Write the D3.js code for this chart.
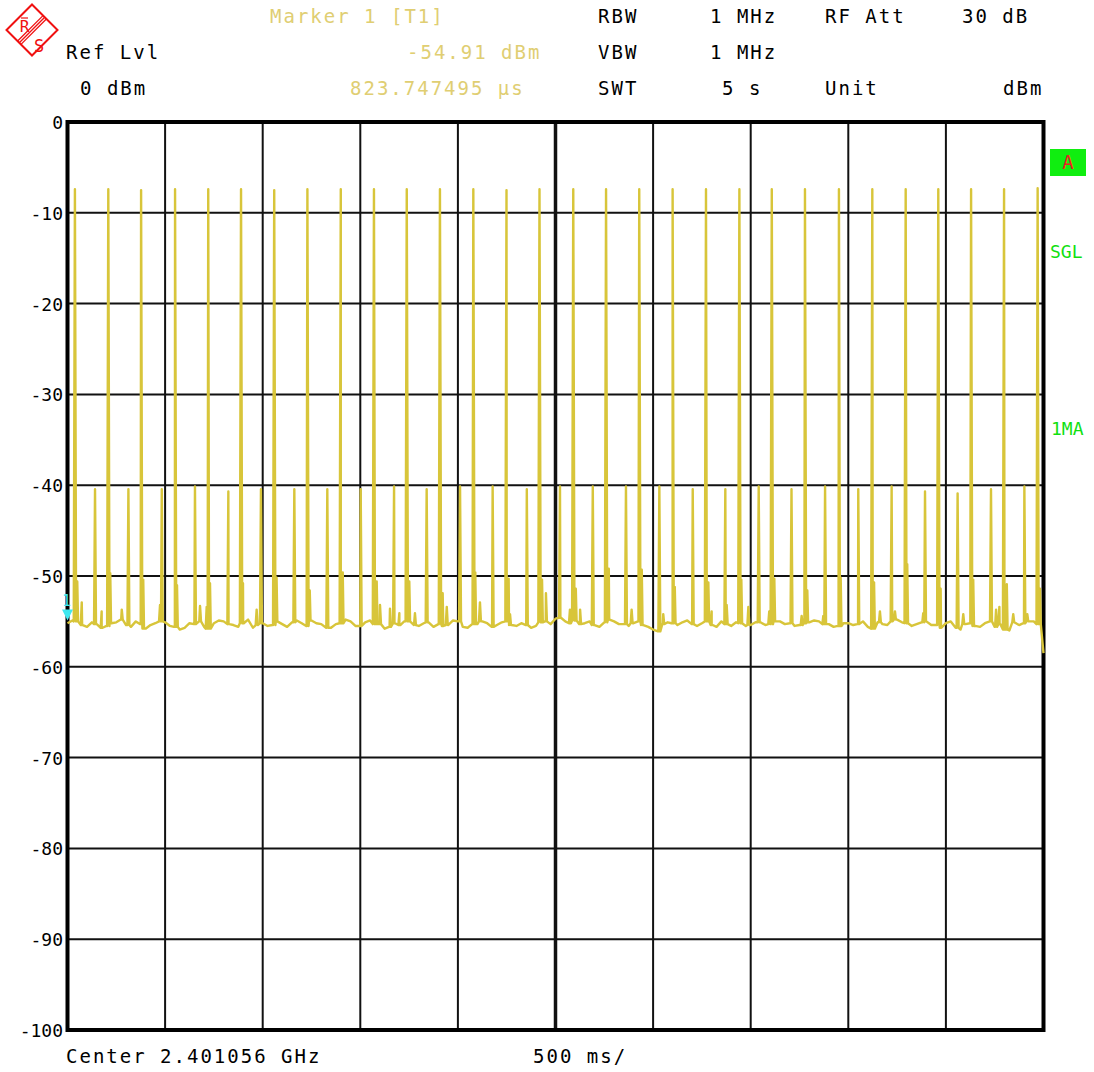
<!DOCTYPE html>
<html>
<head>
<meta charset="utf-8">
<script src="https://cdn.jsdelivr.net/npm/d3@7"></script>
<style>
  body { margin: 0; background: #fff; }
  svg { display: block; }
  text { font-family: "DejaVu Sans Mono", monospace; }
</style>
</head>
<body>
<svg id="chart" width="1094" height="1072"></svg>
<script>
// ---------- DATA ----------
const yTickValues = [0, -10, -20, -30, -40, -50, -60, -70, -80, -90, -100];
const xDivisions = [0, 0.5, 1, 1.5, 2, 2.5, 3, 3.5, 4, 4.5, 5]; // seconds, 500 ms/div

// noise floor, one sample every 25 ms (dBm)
const floorLevels = [
  -55.2, -54.9, -55.0, -55.4, -55.6, -55.1, -55.3, -55.7, -55.5, -55.2,
  -55.1, -54.8, -55.4, -55.6, -55.0, -55.3, -55.8, -55.4, -55.2, -55.0,
  -55.1, -55.5, -55.6, -55.9, -55.7, -55.2, -55.3, -55.0, -55.6, -55.8,
  -55.2, -54.9, -55.0, -55.3, -55.4, -55.6, -55.2, -54.8, -55.7, -55.4,
  -55.2, -55.5, -55.4, -55.0, -55.3, -55.6, -55.1, -54.9, -55.2, -55.5,
  -54.9, -55.2, -55.3, -55.7, -55.7, -55.3, -55.2, -54.8, -55.0, -55.5,
  -55.5, -55.1, -54.9, -55.3, -55.3, -55.8, -55.6, -55.2, -55.4, -55.0,
  -55.0, -55.4, -55.5, -55.2, -55.1, -55.6, -55.3, -55.5, -55.4, -54.9,
  -55.0, -55.6, -55.7, -55.3, -55.3, -55.0, -55.2, -55.6, -55.4, -55.1,
  -55.0, -55.4, -55.5, -55.2, -55.4, -55.7, -55.5, -55.1, -55.0, -55.3,
  -54.7, -54.6, -55.0, -55.2, -54.9, -55.3, -55.2, -55.0, -55.4, -55.6,
  -55.1, -54.8, -55.0, -55.3, -55.3, -55.5, -55.2, -55.0, -55.4, -55.6,
  -55.9, -56.1, -55.3, -55.1, -55.2, -55.4, -55.1, -54.9, -55.3, -55.5,
  -55.2, -55.0, -55.4, -55.6, -55.0, -55.3, -55.5, -55.1, -55.2, -55.5,
  -55.4, -55.1, -55.1, -55.4, -55.3, -55.0, -55.0, -55.3, -55.2, -55.5,
  -55.4, -55.2, -55.1, -54.9, -55.0, -55.3, -55.3, -55.6, -55.5, -55.2,
  -55.2, -55.4, -55.3, -55.0, -55.6, -55.8, -55.1, -55.3, -55.4, -55.0,
  -54.8, -55.1, -55.2, -55.5, -55.3, -55.1, -55.0, -55.4, -55.4, -55.7,
  -55.2, -55.0, -55.7, -55.9, -55.3, -55.2, -55.5, -55.6, -55.2, -55.0,
  -55.6, -55.3, -55.9, -56.0, -55.1, -55.4, -55.2, -55.0, -55.0, -55.3,
  -58.5
];
const floorStep = 0.025;

// tall bursts (time s, peak dBm)
const tallTimes = [0.038, 0.209, 0.377, 0.551, 0.721, 0.889, 1.059, 1.229, 1.400, 1.570,
  1.738, 1.908, 2.079, 2.249, 2.418, 2.591, 2.759, 2.929, 3.100, 3.271,
  3.442, 3.608, 3.778, 3.952, 4.123, 4.294, 4.461, 4.629, 4.798, 4.970];
const tallPeaks = [-7.4, -7.4, -7.5, -7.4, -7.4, -7.4, -7.5, -7.4, -7.4, -7.4,
  -7.4, -7.4, -7.4, -7.5, -7.4, -7.4, -7.4, -7.4, -7.4, -7.4,
  -7.4, -7.4, -7.4, -7.4, -7.4, -7.4, -7.4, -7.4, -7.4, -7.3];

// medium bursts
const midTimes = [0.141, 0.312, 0.483, 0.653, 0.824, 0.991, 1.162, 1.331, 1.502, 1.673,
  1.840, 2.011, 2.178, 2.353, 2.523, 2.691, 2.861, 3.032, 3.203, 3.370,
  3.541, 3.709, 3.881, 4.051, 4.222, 4.393, 4.560, 4.731, 4.902];
const midPeaks = [-40.45, -40.45, -40.45, -40.15, -40.7, -40.45, -40.45, -40.45, -40.45, -40.15,
  -40.45, -40.15, -40.15, -40.45, -40.15, -40.15, -40.15, -40.15, -40.45, -40.45,
  -40.15, -40.45, -40.15, -40.45, -40.15, -40.7, -40.9, -40.45, -40.15];

// shoulders right after each tall burst
const shoulderTimes = [0.050, 0.219, 0.388, 0.561, 0.730, 0.899, 1.071, 1.241, 1.410, 1.584,
  1.751, 1.922, 2.089, 2.260, 2.431, 2.604, 2.773, 2.942, 3.111, 3.283,
  3.452, 3.621, 3.790, 3.961, 4.132, 4.302, 4.473, 4.640, 4.812, 4.982];
const shoulderPeaks = [-50.6, -49.7, -50.4, -51.0, -50.8, -50.8, -50.2, -51.6, -49.6, -50.6,
  -50.6, -51.9, -49.6, -50.3, -50.4, -51.4, -49.2, -49.3, -51.2, -50.7,
  -50.4, -50.3, -51.6, -50.2, -50.7, -48.7, -51.4, -50.4, -50.9, -51.4];

// small spurs on the noise floor
const spurTimes = [0.073, 0.175, 0.278, 0.474, 0.679, 0.713, 0.969, 1.601, 1.652, 1.700,
  1.780, 1.943, 2.113, 2.267, 2.451, 2.574, 2.626, 2.890, 3.052, 3.300,
  3.377, 3.488, 3.595, 3.761, 3.872, 4.162, 4.239, 4.384, 4.589, 4.757,
  4.774, 4.845, 4.917];
const spurPeaks = [-52.9, -53.9, -53.7, -53.2, -53.3, -53.4, -53.7, -53.2, -53.6, -54.1,
  -54.1, -53.4, -52.9, -54.2, -51.9, -53.7, -53.7, -53.7, -54.2, -53.9,
  -53.2, -53.4, -53.9, -54.4, -54.4, -53.9, -53.9, -54.1, -54.2, -53.7,
  -53.4, -54.2, -54.2];

// ---------- DRAW ----------
const svg = d3.select("#chart");
const x = d3.scaleLinear().domain([0, 5]).range([67.5, 1043.5]);
const y = d3.scaleLinear().domain([-100, 0]).range([1030, 122]);

// header
const header = svg.append("g").attr("font-size", 19).attr("letter-spacing", "2px");
const yellowTxt = "#E0CE72";
function htxt(tx, ty, s, col, anchor) {
  header.append("text").attr("x", tx).attr("y", ty).attr("fill", col)
    .attr("text-anchor", anchor || "start").text(s);
}
htxt(270, 23, "Marker 1 [T1]", yellowTxt);
htxt(407, 59, "-54.91 dBm", yellowTxt);
htxt(350, 95, "823.747495 µs", yellowTxt);
htxt(66, 59, "Ref Lvl", "#000");
htxt(80, 95, "0 dBm", "#000");
htxt(598, 23, "RBW", "#000");
htxt(710, 23, "1 MHz", "#000");
htxt(825, 23, "RF Att", "#000");
htxt(962, 23, "30 dB", "#000");
htxt(598, 59, "VBW", "#000");
htxt(710, 59, "1 MHz", "#000");
htxt(598, 95, "SWT", "#000");
htxt(722, 95, "5 s", "#000");
htxt(825, 95, "Unit", "#000");
htxt(1003, 95, "dBm", "#000");

// logo
const red = "#F01010";
const logo = svg.append("g").attr("stroke", red).attr("fill", "none");
const cx = 32, cy = 30, r = 25.5;
logo.append("polygon").attr("stroke-width", 2)
  .attr("points", [[cx, cy - r], [cx + r, cy], [cx, cy + r], [cx - r, cy]].map(p => p.join(",")).join(" "));
[-2.4, 0, 2.4].forEach(o => {
  logo.append("line").attr("stroke-width", 1.3)
    .attr("x1", cx + 12.7 + o * 0.7).attr("y1", cy - 12.7 + o * 0.7)
    .attr("x2", cx - 12.7 + o * 0.7).attr("y2", cy + 12.7 + o * 0.7);
});
svg.append("text").attr("x", 24.5).attr("y", 32).attr("font-size", 16).attr("fill", red)
  .attr("text-anchor", "middle").attr("font-family", "DejaVu Sans Mono").text("R");
svg.append("line").attr("x1", 21).attr("x2", 28).attr("y1", 18).attr("y2", 18).attr("stroke", red).attr("stroke-width", 1.2);
svg.append("text").attr("x", 39).attr("y", 52).attr("font-size", 17).attr("fill", red)
  .attr("text-anchor", "middle").attr("font-family", "DejaVu Sans Mono").text("S");

// grid
const grid = svg.append("g");
grid.selectAll("line.h").data(yTickValues.slice(1, -1)).join("line").attr("class", "h")
  .attr("x1", x(0)).attr("x2", x(5)).attr("y1", d => y(d)).attr("y2", d => y(d))
  .attr("stroke", "#111").attr("stroke-width", 2);
grid.selectAll("line.v").data(xDivisions.slice(1, -1)).join("line").attr("class", "v")
  .attr("x1", d => x(d)).attr("x2", d => x(d)).attr("y1", y(0)).attr("y2", y(-100))
  .attr("stroke", "#111").attr("stroke-width", d => d === 2.5 ? 3.5 : 2);

// y tick labels via axis
const yAxis = d3.axisLeft(y).tickValues(yTickValues).tickSize(0).tickPadding(0)
  .tickFormat(d => d === 0 ? "0" : String(d));
const ax = svg.append("g").attr("transform", "translate(63,0)").call(yAxis);
ax.select(".domain").remove();
ax.selectAll("text").attr("font-family", "DejaVu Sans Mono").attr("font-size", 18)
  .attr("fill", "#000").attr("dy", "0.36em");

// frame
svg.append("rect").attr("x", x(0)).attr("y", y(0)).attr("width", x(5) - x(0)).attr("height", y(-100) - y(0))
  .attr("fill", "none").attr("stroke", "#000").attr("stroke-width", 4);

// trace construction
const floorFn = t => {
  const i = Math.min(Math.round(t / floorStep), floorLevels.length - 1);
  return floorLevels[i];
};
const pts = floorLevels.map((v, i) => ({ t: i * floorStep, v }));
function addSpikes(times, peaks, w) {
  times.forEach((t, i) => {
    const b = floorFn(t);
    pts.push({ t: t - w, v: b }, { t: t, v: peaks[i] }, { t: t + w, v: b });
  });
}
addSpikes(tallTimes, tallPeaks, 0.006);
addSpikes(midTimes, midPeaks, 0.005);
addSpikes(shoulderTimes, shoulderPeaks, 0.004);
addSpikes(spurTimes, spurPeaks, 0.005);
pts.sort((a, b) => a.t - b.t);

const line = d3.line().x(d => x(Math.max(0, Math.min(5, d.t)))).y(d => y(d.v));
svg.append("path").datum(pts).attr("d", line)
  .attr("fill", "none").attr("stroke", "#D8C53A").attr("stroke-width", 2.4)
  .attr("stroke-linejoin", "round");

// marker 1
const my = y(-54.91);
svg.append("path").attr("d", `M${x(0) - 5.5},${my - 11} L${x(0) + 5.5},${my - 11} L${x(0)},${my} Z`)
  .attr("fill", "#40E8F0");
svg.append("text").attr("x", x(0) - 1).attr("y", my - 15).attr("font-size", 15).attr("fill", "#40E8F0")
  .attr("text-anchor", "middle").text("1");

// right-side annotations
svg.append("rect").attr("x", 1050).attr("y", 149).attr("width", 36).attr("height", 27).attr("fill", "#10EE10");
svg.append("text").attr("x", 1068).attr("y", 169).attr("font-size", 19).attr("fill", "#F02020")
  .attr("text-anchor", "middle").text("A");
svg.append("text").attr("x", 1050).attr("y", 258).attr("font-size", 18).attr("fill", "#10E010").text("SGL");
svg.append("text").attr("x", 1051).attr("y", 435).attr("font-size", 18).attr("fill", "#10E010").text("1MA");

// footer
const footer = svg.append("g").attr("font-size", 19).attr("letter-spacing", "2px").attr("fill", "#000");
footer.append("text").attr("x", 66).attr("y", 1063).text("Center 2.401056 GHz");
footer.append("text").attr("x", 533).attr("y", 1063).text("500 ms/");
</script>
</body>
</html>
